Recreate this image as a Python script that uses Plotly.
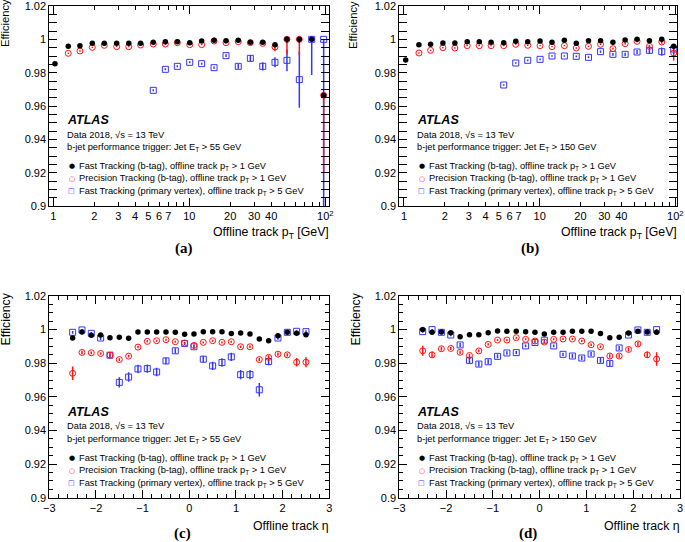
import plotly.graph_objects as go

W, H = 685, 542
FONT = "Liberation Sans"
SERIF = "Liberation Serif"
BLACK = "#000000"
RED = "#ff1414"
BLUE = "#3535ff"

# ---------------- data ----------------
pt_centers = [1.029, 1.288, 1.570, 1.936, 2.371, 2.924, 3.589, 4.385, 5.433, 6.668,
              8.166, 10.07, 12.33, 15.21, 18.62, 22.91, 28.12, 34.67, 42.66, 52.24,
              64.42, 79.43, 97.27]
eta_centers = [-2.5, -2.3, -2.1, -1.9, -1.7, -1.5, -1.3, -1.1, -0.9, -0.7, -0.5, -0.3, -0.1,
               0.1, 0.3, 0.5, 0.7, 0.9, 1.1, 1.3, 1.5, 1.7, 1.9, 2.1, 2.3, 2.5]

# (a) pT, Jet ET > 55 GeV
a_fast = [0.9854, 0.9958, 0.9962, 0.9976, 0.9977, 0.9977, 0.9977, 0.9977, 0.9982, 0.9986,
          0.9986, 0.9980, 0.9990, 0.9994, 0.9992, 0.9994, 0.9982, 0.9983, 0.9968, 1.0,
          1.0, 1.0, 0.9664]
a_fast_up = [0.0004, 0.0003, 0.0003, 0.0003, 0.0003, 0.0003, 0.0003, 0.0003, 0.0003, 0.0003,
             0.0003, 0.0003, 0.0003, 0.0003, 0.0003, 0.0003, 0.0004, 0.0005, 0.0008, 0.0,
             0.0, 0.0, 0.0]
a_fast_dn = [0.0004, 0.0003, 0.0003, 0.0003, 0.0003, 0.0003, 0.0003, 0.0003, 0.0003, 0.0003,
             0.0003, 0.0003, 0.0003, 0.0003, 0.0003, 0.0003, 0.0004, 0.0005, 0.0008, 0.002,
             0.002, 0.0, 0.0]
a_prec = [None, 0.9916, 0.9930, 0.9952, 0.9964, 0.9956, 0.9956, 0.9966, 0.9972, 0.9972,
          0.9980, 0.9968, 0.9968, 0.9990, 0.9980, 0.9986, 0.9980, 0.9976, 0.9954, 1.0,
          1.0, None, 0.9664]
a_prec_up = [0.0, 0.0004, 0.0004, 0.0004, 0.0004, 0.0004, 0.0004, 0.0004, 0.0004, 0.0004,
             0.0004, 0.0004, 0.0004, 0.0004, 0.0004, 0.0005, 0.0006, 0.0008, 0.0022, 0.0,
             0.0, 0.0, 0.0]
a_prec_dn = [0.0, 0.0004, 0.0004, 0.0004, 0.0004, 0.0004, 0.0004, 0.0004, 0.0004, 0.0004,
             0.0004, 0.0004, 0.0004, 0.0004, 0.0004, 0.0005, 0.0006, 0.0008, 0.0025, 0.0090,
             0.0094, 0.0, 0.0464]
a_pv = [None, None, None, None, None, None, None, None, 0.9694, 0.9820,
        0.9838, 0.9862, 0.9854, 0.9830, 0.9902, 0.9838, 0.9886, 0.9838, 0.9862, 0.9874,
        0.9758, 1.0, 1.0]
a_pv_up = [0, 0, 0, 0, 0, 0, 0, 0, 0.0006, 0.0006,
           0.0006, 0.0006, 0.0006, 0.0007, 0.0008, 0.0015, 0.002, 0.0025, 0.003, 0.0065,
           0.0168, 0.0, 0.0]
a_pv_dn = [0, 0, 0, 0, 0, 0, 0, 0, 0.0006, 0.0006,
           0.0006, 0.0006, 0.0006, 0.0007, 0.0008, 0.0015, 0.002, 0.0025, 0.003, 0.0065,
           0.0168, 0.0214, 0.105]

# (b) pT, Jet ET > 150 GeV
b_fast = [0.9876, 0.9968, 0.9970, 0.9978, 0.9978, 0.9986, 0.9986, 0.9982, 0.9980, 0.9988,
          0.9986, 0.9990, 0.9982, 0.9994, 0.9976, 0.9992, 0.9992, 0.9982, 0.9996, 1.0,
          0.9992, 1.0, 0.9958]
b_fast_err = [0.0004, 0.0003, 0.0003, 0.0003, 0.0003, 0.0003, 0.0003, 0.0003, 0.0003, 0.0003,
              0.0003, 0.0003, 0.0003, 0.0003, 0.0003, 0.0003, 0.0003, 0.0003, 0.0003, 0.0,
              0.0004, 0.0, 0.001]
b_prec = [None, 0.9918, 0.9934, 0.9950, 0.9948, 0.9962, 0.9962, 0.9962, 0.9962, 0.9970,
          0.9964, 0.9962, 0.9956, 0.9962, 0.9948, 0.9958, 0.9970, 0.9944, 0.9974, 0.9988,
          0.9958, 0.9984, 0.9918]
b_prec_err = [0.0, 0.0004, 0.0004, 0.0004, 0.0004, 0.0004, 0.0004, 0.0004, 0.0004, 0.0004,
              0.0004, 0.0004, 0.0004, 0.0004, 0.0004, 0.0004, 0.0004, 0.0005, 0.0005, 0.0006,
              0.001, 0.001, 0.0045]
b_pv = [None, None, None, None, None, None, None, None, 0.9726, 0.9858,
        0.9874, 0.9880, 0.9900, 0.9900, 0.9898, 0.9892, 0.9926, 0.9910, 0.9910, 0.9924,
        0.9934, 0.9926, 0.9942]
b_pv_err = [0, 0, 0, 0, 0, 0, 0, 0, 0.0005, 0.0005,
            0.0005, 0.0005, 0.0005, 0.0005, 0.0005, 0.0006, 0.0007, 0.0008, 0.001, 0.0012,
            0.0022, 0.0025, 0.003]

# (c) eta, Jet ET > 55 GeV
c_fast = [0.9950, 0.9986, 0.9966, 0.9968, 0.9952, 0.9954, 0.9948, 0.9986, 0.9986, 0.9986,
          0.9986, 0.9984, 0.9973, 0.9974, 0.9988, 0.9988, 0.9988, 0.9977, 0.9980, 0.9974,
          0.9944, 0.9934, 0.9964, 0.9984, 0.9978, 0.9970]
c_fast_err = [0.001, 0.0006, 0.0006, 0.0005, 0.0004, 0.0004, 0.0004, 0.0003, 0.0003, 0.0003,
              0.0003, 0.0003, 0.0003, 0.0003, 0.0003, 0.0003, 0.0003, 0.0003, 0.0003, 0.0004,
              0.0004, 0.0004, 0.0005, 0.0006, 0.0006, 0.0008]
c_prec = [0.9740, 0.9864, 0.9862, 0.9858, 0.9848, 0.9822, 0.9842, 0.9896, 0.9930, 0.9934,
          0.9940, 0.9928, 0.9920, 0.9906, 0.9924, 0.9934, 0.9924, 0.9928, 0.9898, 0.9898,
          0.9822, 0.9835, 0.9854, 0.9850, 0.9806, 0.9806]
c_prec_err = [0.0040, 0.0010, 0.0008, 0.0008, 0.0008, 0.0008, 0.0008, 0.0007, 0.0006, 0.0006,
              0.0006, 0.0006, 0.0006, 0.0006, 0.0006, 0.0006, 0.0006, 0.0006, 0.0007, 0.0008,
              0.0010, 0.0012, 0.0010, 0.0010, 0.0025, 0.0030]
c_pv = [0.9984, 0.9998, 0.9978, 0.9950, 0.9848, 0.9686, 0.9718, 0.9766, 0.9768, 0.9748,
        0.9814, 0.9874, 0.9918, 0.9898, 0.9824, 0.9784, 0.9804, 0.9838, 0.9732, 0.9732,
        0.9642, 0.9810, 0.9950, 0.9984, 0.9990, 0.9988]
c_pv_err = [0.0008, 0.0006, 0.0008, 0.0012, 0.0018, 0.0030, 0.0028, 0.0025, 0.0025, 0.0025,
            0.0020, 0.0015, 0.0010, 0.0012, 0.0020, 0.0025, 0.0025, 0.0025, 0.0028, 0.0028,
            0.0040, 0.0022, 0.0010, 0.0006, 0.0006, 0.0008]

# (d) eta, Jet ET > 150 GeV
d_fast = [1.0, 0.9984, 0.9986, 0.9982, 0.9958, 0.9970, 0.9970, 0.9982, 0.9992, 0.9990,
          0.9990, 0.9988, 0.9984, 0.9974, 0.9984, 0.9984, 0.9990, 0.9990, 0.9990, 0.9977,
          0.9951, 0.9955, 0.9980, 0.9991, 0.9986, 0.9984]
d_fast_err = [0.0006, 0.0004, 0.0004, 0.0004, 0.0003, 0.0003, 0.0003, 0.0003, 0.0003, 0.0003,
              0.0003, 0.0003, 0.0003, 0.0003, 0.0003, 0.0003, 0.0003, 0.0003, 0.0003, 0.0003,
              0.0003, 0.0003, 0.0004, 0.0004, 0.0004, 0.0006]
d_prec = [0.9874, 0.9850, 0.9886, 0.9888, 0.9865, 0.9846, 0.9873, 0.9912, 0.9938, 0.9938,
          0.9952, 0.9942, 0.9932, 0.9926, 0.9942, 0.9944, 0.9944, 0.9932, 0.9910, 0.9898,
          0.9843, 0.9843, 0.9882, 0.9915, 0.9850, 0.9825]
d_prec_err = [0.0030, 0.0018, 0.0012, 0.0010, 0.0010, 0.0010, 0.0008, 0.0007, 0.0006, 0.0006,
              0.0006, 0.0006, 0.0006, 0.0006, 0.0006, 0.0006, 0.0006, 0.0006, 0.0007, 0.0008,
              0.0010, 0.0010, 0.0012, 0.0012, 0.0018, 0.0040]
d_pv = [0.9988, 1.0, 0.9984, 0.9968, 0.9909, 0.9817, 0.9795, 0.9809, 0.9841, 0.9861,
        0.9863, 0.9903, 0.9923, 0.9937, 0.9903, 0.9853, 0.9843, 0.9831, 0.9855, 0.9817,
        0.9799, 0.9891, 0.9968, 0.9998, 0.9984, 1.0]
d_pv_err = [0.0006, 0.0004, 0.0006, 0.0008, 0.0012, 0.0015, 0.0015, 0.0014, 0.0012, 0.0010,
            0.0010, 0.0008, 0.0006, 0.0006, 0.0008, 0.0010, 0.0012, 0.0012, 0.0012, 0.0014,
            0.0015, 0.0012, 0.0008, 0.0006, 0.0006, 0.0004]

# tick labels
y_tickvals = [0.9, 0.92, 0.94, 0.96, 0.98, 1.0, 1.02]
y_ticktext = ["0.9", "0.92", "0.94", "0.96", "0.98", "1", "1.02"]
pt_tickvals = [1, 2, 3, 4, 5, 6, 7, 10, 20, 30, 40, 100]
pt_ticktext = ["1", "2", "3", "4", "5", "6", "7", "10", "20", "30", "40", "10<sup>2</sup>"]
pt_minor_vals = [8, 9, 50, 60, 70, 80, 90]
pt_major = [1, 10, 100]
eta_tickvals = [-3, -2, -1, 0, 1, 2, 3]

jet_cuts = {"a": "55", "b": "150", "c": "55", "d": "150"}
legend_texts = [
    "Fast Tracking (b-tag), offline track p<sub>T</sub> > 1 GeV",
    "Precision Tracking (b-tag), offline track p<sub>T</sub> > 1 GeV",
    "Fast Tracking (primary vertex), offline track p<sub>T</sub> > 5 GeV",
]
legend_symbols = ["●", "○", "□"]
legend_colors = [BLACK, RED, BLUE]

# ---------------- layout geometry (pixels) ----------------
panels = {
    "a": dict(x0=49.3, x1=329.3, y0=6.0, y1=206.0, xr=[-0.0294, 2.0294], log=True),
    "b": dict(x0=399.3, x1=677.0, y0=6.0, y1=206.0, xr=[-0.0346, 2.0124], log=True),
    "c": dict(x0=49.3, x1=329.3, y0=296.0, y1=497.7, xr=[-3, 3], log=False),
    "d": dict(x0=399.3, x1=680.0, y0=296.0, y1=497.7, xr=[-3, 3], log=False),
}
axis_ids = {"a": ("x", "y"), "b": ("x2", "y2"), "c": ("x3", "y3"), "d": ("x4", "y4")}


def fx(p):
    return p / W


def fy(p):
    return 1 - p / H


fig = go.Figure()

series = {
    "a": (pt_centers, a_fast, a_fast_up, a_fast_dn, a_prec, a_prec_up, a_prec_dn, a_pv, a_pv_up, a_pv_dn),
    "b": (pt_centers, b_fast, b_fast_err, b_fast_err, b_prec, b_prec_err, b_prec_err, b_pv, b_pv_err, b_pv_err),
    "c": (eta_centers, c_fast, c_fast_err, c_fast_err, c_prec, c_prec_err, c_prec_err, c_pv, c_pv_err, c_pv_err),
    "d": (eta_centers, d_fast, d_fast_err, d_fast_err, d_prec, d_prec_err, d_prec_err, d_pv, d_pv_err, d_pv_err),
}

for key, (xs, fv, fu, fd, pv_, pu, pd, vv, vu, vd) in series.items():
    xa, ya = axis_ids[key]
    fig.add_trace(go.Scatter(
        x=xs, y=vv, mode="markers", xaxis=xa, yaxis=ya, showlegend=False,
        marker=dict(symbol="square-open", size=6, color=BLUE, line=dict(width=1, color=BLUE)),
        error_y=dict(type="data", symmetric=False, array=vu, arrayminus=vd,
                     color=BLUE, thickness=1.5, width=0)))
    fig.add_trace(go.Scatter(
        x=xs, y=pv_, mode="markers", xaxis=xa, yaxis=ya, showlegend=False,
        marker=dict(symbol="circle-open", size=6, color=RED, line=dict(width=1, color=RED)),
        error_y=dict(type="data", symmetric=False, array=pu, arrayminus=pd,
                     color=RED, thickness=1.5, width=0)))
    fig.add_trace(go.Scatter(
        x=xs, y=fv, mode="markers", xaxis=xa, yaxis=ya, showlegend=False,
        marker=dict(symbol="circle", size=5.5, color=BLACK),
        error_y=dict(type="data", symmetric=False, array=fu, arrayminus=fd,
                     color=BLACK, thickness=1.5, width=0)))

# dummy traces so overlay axes for long log ticks get drawn
fig.add_trace(go.Scatter(x=[None], y=[None], xaxis="x5", yaxis="y", showlegend=False, hoverinfo="skip"))
fig.add_trace(go.Scatter(x=[None], y=[None], xaxis="x6", yaxis="y2", showlegend=False, hoverinfo="skip"))

common = dict(showline=True, linecolor="black", linewidth=1, mirror="allticks",
              ticks="inside", tickcolor="black", tickwidth=1, showgrid=False,
              zeroline=False, automargin=False, ticklabeloverflow="allow",
              tickfont=dict(family=FONT, size=11, color="black"))

layout = dict(width=W, height=H, margin=dict(l=0, r=0, t=0, b=0, autoexpand=False),
              paper_bgcolor="white", plot_bgcolor="white", showlegend=False,
              font=dict(family=FONT, color="black"))

for key, p in panels.items():
    xa, ya = axis_ids[key]
    xname = "xaxis" + xa[1:]
    yname = "yaxis" + ya[1:]
    xdom = [fx(p["x0"]), fx(p["x1"])]
    ydom = [fy(p["y1"]), fy(p["y0"])]
    yax = dict(common, domain=ydom, anchor=xa, range=[0.9, 1.02], tickmode="array",
               tickvals=y_tickvals, ticktext=y_ticktext, ticklen=8,
               minor=dict(ticks="inside", ticklen=4, dtick=0.005, tick0=0.9,
                          tickcolor="black", showgrid=False))
    if p["log"]:
        xax = dict(common, domain=xdom, anchor=ya, type="log", range=p["xr"],
                   tickmode="array", tickvals=pt_tickvals, ticktext=pt_ticktext, ticklen=4,
                   minor=dict(ticks="inside", ticklen=4, tickmode="array",
                              tickvals=pt_minor_vals, tickcolor="black", showgrid=False))
    else:
        xax = dict(common, domain=xdom, anchor=ya, range=p["xr"], tickmode="array",
                   tickvals=eta_tickvals, ticklen=8,
                   minor=dict(ticks="inside", ticklen=4, dtick=0.2, tick0=0,
                              tickcolor="black", showgrid=False))
    layout[xname] = xax
    layout[yname] = yax

for ov, base, ya, key in (("xaxis5", "x", "y", "a"), ("xaxis6", "x2", "y2", "b")):
    layout[ov] = dict(common, type="log", range=panels[key]["xr"], overlaying=base,
                      anchor=ya, tickmode="array", tickvals=pt_major, ticklen=8,
                      showticklabels=False)

fig.update_layout(**layout)

ann = []


def text(xp, yp, s, size, xanchor="left", yanchor="middle", family=FONT, angle=0, color="black"):
    ann.append(dict(x=fx(xp), y=fy(yp), xref="paper", yref="paper", text=s,
                    showarrow=False, xanchor=xanchor, yanchor=yanchor, textangle=angle,
                    font=dict(family=family, size=size, color=color), borderpad=0))


labels = {"a": "(a)", "b": "(b)", "c": "(c)", "d": "(d)"}
label_pos = {"a": (184, 248), "b": (530, 248), "c": (182, 533), "d": (528, 533)}
xtitle_y = {"a": 233, "b": 233, "c": 526, "d": 526}
ytitle_pos = {"a": (5, 48, 11.2), "b": (353, 50, 11.2), "c": (5, 347, 12.3), "d": (355, 347, 12.3)}

for key, p in panels.items():
    L, B = p["x0"], p["y1"]
    text(L + 17, B - 85.7, "<b><i>ATLAS</i></b>", 12.5)
    text(L + 17, B - 71.5, "Data 2018, √s = 13 TeV", 9.3)
    text(L + 17, B - 58.5, "b-jet performance trigger: Jet E<sub>T</sub> > %s GeV" % jet_cuts[key], 9.3)
    for i, (sym, col, t) in enumerate(zip(legend_symbols, legend_colors, legend_texts)):
        yy = B - 39.7 + 12.6 * i
        text(L + 22.5, yy, sym, 7, xanchor="center", family="DejaVu Sans", color=col)
        text(L + 29, yy, t, 9.3)
    xt = "Offline track p<sub>T</sub> [GeV]" if p["log"] else "Offline track η"
    text(p["x1"] + 1, xtitle_y[key], xt, 12.3, xanchor="right")
    tx, ty, ts = ytitle_pos[key]
    text(tx, ty, "Efficiency", ts, xanchor="center", yanchor="bottom", angle=-90)
    lx, ly = label_pos[key]
    text(lx, ly, "<b>%s</b>" % labels[key], 15, xanchor="center", family=SERIF)

fig.update_layout(annotations=ann)
fig.write_html("out.html", config={"displayModeBar": False, "staticPlot": True},
               post_script="document.body.style.margin='0';document.body.style.padding='0';document.body.style.overflow='hidden';")
